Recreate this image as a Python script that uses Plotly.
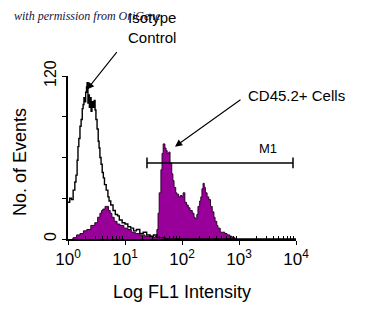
import plotly.graph_objects as go

# Isotype control histogram: log10(FL1) position and event count
iso_log_fl1 = [0.00, 0.03, 0.06, 0.09, 0.12, 0.14, 0.16, 0.175, 0.19, 0.21, 0.23, 0.25,
               0.265, 0.28, 0.30, 0.31, 0.325, 0.335, 0.35, 0.36, 0.375, 0.39, 0.405, 0.42,
               0.44, 0.46, 0.475, 0.49, 0.51, 0.53, 0.545, 0.56, 0.58, 0.60, 0.62, 0.64,
               0.67, 0.70, 0.72, 0.75, 0.79, 0.83, 0.87, 0.90, 0.95, 1.00, 1.05, 1.10,
               1.15, 1.20, 1.26, 1.32, 1.38, 1.44, 1.50, 1.56, 1.62, 1.70, 2.00, 4.00]
iso_counts = [27, 30, 29, 36, 42, 47, 58, 68, 74, 83, 88, 96,
              99, 104, 101, 108, 112, 115, 100, 106, 97, 104, 94, 101,
              97, 102, 95, 88, 81, 72, 67, 60, 55, 49, 45, 40,
              36, 31, 28, 25, 21, 18, 17, 14, 12, 11, 9, 8,
              6, 7, 4, 5, 3, 2, 3, 1, 1, 0, 0, 0]

# CD45.2+ cells histogram
cd45_log_fl1 = [0.07, 0.09, 0.15, 0.21, 0.27, 0.33, 0.40, 0.47, 0.52, 0.56, 0.59, 0.61,
                0.65, 0.68, 0.71, 0.74, 0.77, 0.81, 0.86, 0.91, 0.98, 1.05, 1.11, 1.18,
                1.26, 1.35, 1.42, 1.48, 1.53, 1.56, 1.58, 1.60, 1.63, 1.65, 1.67, 1.70,
                1.72, 1.74, 1.77, 1.79, 1.82, 1.84, 1.86, 1.89, 1.91, 1.94, 1.97, 2.00,
                2.02, 2.05, 2.08, 2.11, 2.14, 2.18, 2.21, 2.23, 2.26, 2.28, 2.31, 2.33,
                2.35, 2.37, 2.39, 2.41, 2.44, 2.47, 2.50, 2.53, 2.56, 2.58, 2.61, 2.63,
                2.67, 2.70, 2.75, 2.79, 2.84, 2.88, 2.93]
cd45_counts = [0, 1, 3, 4, 6, 7, 10, 12, 16, 19, 21, 22,
               24, 24, 21, 19, 16, 13, 11, 10, 8, 7, 5, 4,
               3, 2, 2, 1, 2, 7, 19, 34, 51, 63, 70, 67,
               65, 63, 64, 56, 48, 43, 38, 34, 33, 31, 32, 31,
               34, 27, 25, 23, 21, 19, 16, 15, 18, 24, 28, 31,
               37, 41, 38, 34, 31, 29, 24, 20, 16, 13, 10, 8,
               5, 5, 4, 3, 2, 1, 0]

# M1 marker region (FL1 limits) and its height in events
m1_limits = [24.3, 8860.0]
m1_level = 56
m1_cap = 4

x_tick_vals = [1, 10, 100, 1000, 10000]
x_tick_text = ["10<sup>0</sup>", "10<sup>1</sup>", "10<sup>2</sup>", "10<sup>3</sup>", "10<sup>4</sup>"]
x_minor_vals = [k * 10 ** d for d in range(4) for k in range(2, 10)]
y_tick_vals = [0, 30, 60, 90, 120]
y_tick_text = ["0", "", "", "", "120"]

FONT = "Liberation Sans, Arial, Helvetica, sans-serif"

fig = go.Figure()

fig.add_trace(go.Scatter(
    x=[10 ** v for v in cd45_log_fl1], y=cd45_counts,
    mode="lines", line=dict(color="#2a002a", width=1, shape="hv"),
    fill="tozeroy", fillcolor="#990099", hoverinfo="skip", showlegend=False))

fig.add_trace(go.Scatter(
    x=[10 ** v for v in iso_log_fl1], y=iso_counts,
    mode="lines", line=dict(color="black", width=1.4, shape="hv"),
    hoverinfo="skip", showlegend=False))

# M1 gate bar with end caps
fig.add_trace(go.Scatter(
    x=m1_limits, y=[m1_level, m1_level], mode="lines",
    line=dict(color="black", width=1.5), hoverinfo="skip", showlegend=False))
fig.add_trace(go.Scatter(
    x=[m1_limits[0], m1_limits[0], None, m1_limits[1], m1_limits[1]],
    y=[m1_level - m1_cap, m1_level + m1_cap, None, m1_level - m1_cap, m1_level + m1_cap],
    mode="lines", line=dict(color="black", width=1.5), hoverinfo="skip", showlegend=False))

fig.update_xaxes(
    type="log", range=[0, 4], tickmode="array", tickvals=x_tick_vals, ticktext=x_tick_text,
    ticks="outside", ticklen=4, tickwidth=1.2, tickcolor="black",
    showline=True, linecolor="black", linewidth=1.5, showgrid=False, zeroline=False,
    tickfont=dict(family=FONT, size=17, color="black"),
    minor=dict(tickvals=x_minor_vals, ticks="inside", ticklen=3, tickwidth=1, tickcolor="black",
               showgrid=False))
fig.update_yaxes(
    range=[0, 120], tickmode="array", tickvals=y_tick_vals, ticktext=y_tick_text,
    ticks="outside", ticklen=4, tickwidth=1.2, tickcolor="black", tickangle=-90,
    showline=True, linecolor="black", linewidth=1.5, showgrid=False, zeroline=False,
    tickfont=dict(family=FONT, size=16, color="black"))

W, H = 371, 326
L, R, T, B = 68, 75, 76, 87
pw, ph = W - L - R, H - T - B

fig.update_layout(
    width=W, height=H,
    margin=dict(l=L, r=R, t=T, b=B),
    paper_bgcolor="white", plot_bgcolor="white",
    font=dict(family=FONT, color="black"),
    xaxis_title=dict(text="Log FL1 Intensity", font=dict(family=FONT, size=18, color="black"),
                     standoff=17),
    showlegend=False,
)


def px(x, y):
    """Convert page pixel position to paper coordinates."""
    return (x - L) / pw, 1 - (y - T) / ph


ann = []
x0, y0 = px(12, 16)
ann.append(dict(text="<i>with permission from OriGene</i>", x=x0, y=y0, xref="paper", yref="paper",
                xanchor="left", yanchor="middle", showarrow=False,
                font=dict(family="Liberation Serif, DejaVu Serif, serif", size=12, color="#14143c")))
x0, y0 = px(152, 28)
ann.append(dict(text="Isotype<br>Control", x=x0, y=y0, xref="paper", yref="paper",
                xanchor="center", yanchor="middle", showarrow=False, align="center",
                bgcolor="rgba(255,255,255,0)",
                font=dict(family=FONT, size=15, color="black")))
x0, y0 = px(296, 95)
ann.append(dict(text="CD45.2+ Cells", x=x0, y=y0, xref="paper", yref="paper",
                xanchor="center", yanchor="middle", showarrow=False,
                font=dict(family=FONT, size=15, color="black")))
x0, y0 = px(268, 148)
ann.append(dict(text="M1", x=x0, y=y0, xref="paper", yref="paper",
                xanchor="center", yanchor="middle", showarrow=False,
                font=dict(family=FONT, size=13, color="black")))
x0, y0 = px(20, 162)
ann.append(dict(text="No. of Events", x=x0, y=y0, xref="paper", yref="paper", textangle=-90,
                xanchor="center", yanchor="middle", showarrow=False,
                font=dict(family=FONT, size=18, color="black")))
# arrows pointing at the two histogram peaks (heads in data coordinates)
ann.append(dict(text="", x=0.333, y=110, xref="x", yref="y", showarrow=True,
                ax=31, ay=-39, arrowhead=2, arrowsize=1.3, arrowwidth=1.1, arrowcolor="black"))
ann.append(dict(text="", x=1.877, y=68, xref="x", yref="y", showarrow=True,
                ax=67, ay=-48, arrowhead=2, arrowsize=1.3, arrowwidth=1.1, arrowcolor="black"))

fig.update_layout(annotations=ann)

fig.write_html("out.html")
